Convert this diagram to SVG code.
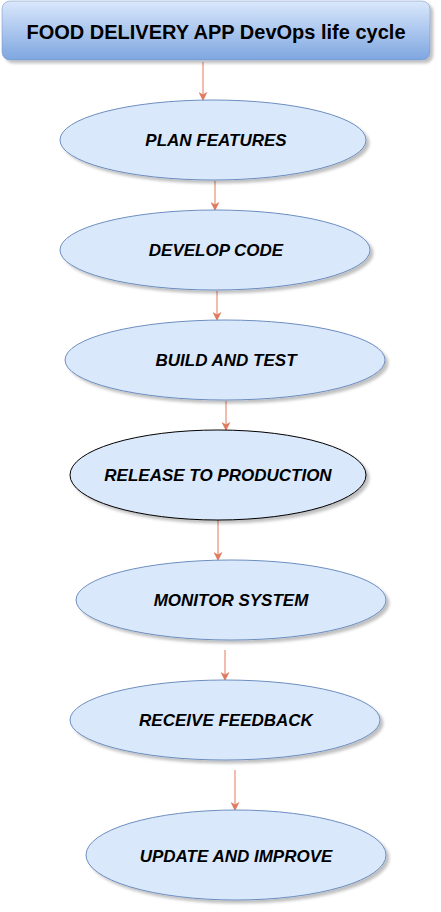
<svg xmlns="http://www.w3.org/2000/svg" width="441" height="912" viewBox="0 0 441 912">
<style>
.bg{fill:#ffffff}
.node ellipse{fill:#dae8fc;stroke:#6c8ebf;stroke-width:1;filter:url(#sh)}
.lbl{font-family:"Liberation Sans",Arial,sans-serif;font-size:17px;font-weight:bold;font-style:italic;fill:#000;text-anchor:middle;dominant-baseline:central}
.title{font-family:"Liberation Sans",Arial,sans-serif;font-size:20px;font-weight:bold;fill:#000;text-anchor:middle;dominant-baseline:central}
.edge{stroke:#e07b5f;stroke-width:1;fill:none;marker-end:url(#ah)}
</style>
<defs>
<linearGradient id="tg" x1="0" y1="0" x2="0" y2="1">
<stop offset="0" stop-color="#dae8fc"/>
<stop offset="1" stop-color="#7ea6e0"/>
</linearGradient>
<filter id="sh" x="-10%" y="-10%" width="130%" height="140%">
<feGaussianBlur in="SourceAlpha" stdDeviation="1.5"/>
<feOffset dx="3" dy="3" result="o"/>
<feComponentTransfer><feFuncA type="linear" slope="0.25"/></feComponentTransfer>
<feMerge><feMergeNode/><feMergeNode in="SourceGraphic"/></feMerge>
</filter>
<marker id="ah" viewBox="0 0 10 10" refX="9" refY="5" markerWidth="9" markerHeight="9" orient="auto" markerUnits="userSpaceOnUse">
<path d="M0,0 L10,5 L0,10 L3,5 Z" fill="#e07b5f"/>
</marker>
</defs>
<rect class="bg" width="441" height="912"/>
<g id="connectors">
<line class="edge" x1="203" y1="62" x2="203" y2="100"/>
<line class="edge" x1="215" y1="181" x2="215" y2="210"/>
<line class="edge" x1="217" y1="291" x2="217" y2="320"/>
<line class="edge" x1="226" y1="401" x2="226" y2="430"/>
<line class="edge" x1="218" y1="520" x2="218" y2="560"/>
<line class="edge" x1="225" y1="650" x2="225" y2="680"/>
<line class="edge" x1="235" y1="770" x2="235" y2="810"/>
</g>
<g id="title">
<rect x="2" y="1" width="428" height="59" rx="8" fill="url(#tg)" stroke="#6c8ebf" stroke-width="0.5" filter="url(#sh)"/>
<text class="title" x="216" y="32">FOOD DELIVERY APP DevOps life cycle</text>
</g>
<g id="plan" class="node">
<ellipse cx="213" cy="140" rx="153" ry="40"/>
<text class="lbl" x="216" y="140">PLAN FEATURES</text>
</g>
<g id="develop" class="node">
<ellipse cx="215" cy="250" rx="155" ry="40"/>
<text class="lbl" x="216" y="250">DEVELOP CODE</text>
</g>
<g id="build" class="node">
<ellipse cx="225" cy="360" rx="160" ry="40"/>
<text class="lbl" x="226" y="360">BUILD AND TEST</text>
</g>
<g id="release" class="node">
<ellipse cx="218" cy="475" rx="148" ry="45" style="stroke:#000000"/>
<text class="lbl" x="218" y="475">RELEASE TO PRODUCTION</text>
</g>
<g id="monitor" class="node">
<ellipse cx="231" cy="600" rx="155" ry="40"/>
<text class="lbl" x="231" y="600">MONITOR SYSTEM</text>
</g>
<g id="feedback" class="node">
<ellipse cx="225" cy="720" rx="155" ry="40"/>
<text class="lbl" x="226" y="720">RECEIVE FEEDBACK</text>
</g>
<g id="update" class="node">
<ellipse cx="236" cy="855" rx="150" ry="45"/>
<text class="lbl" x="236" y="856">UPDATE AND IMPROVE</text>
</g>
</svg>
